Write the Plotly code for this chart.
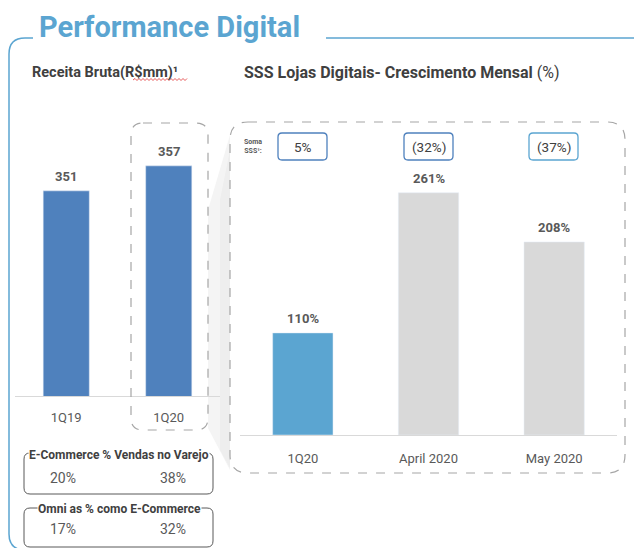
import plotly.graph_objects as go

W, H = 634, 548

# ---- data ----
left_cats = ["1Q19", "1Q20"]
left_vals = [351, 357]
right_cats = ["1Q20", "April 2020", "May 2020"]
right_vals = [110, 261, 208]
soma_sss = ["5%", "(32%)", "(37%)"]
ecom_vendas = ["20%", "38%"]
omni_ecom = ["17%", "32%"]

FONT = "Roboto, Noto Sans, sans-serif"
BLUE_DARK = "#4F81BD"
BLUE_LIGHT = "#5BA5D1"
GREY_BAR = "#D9D9D9"
TXT = "#404040"
TXT2 = "#595959"


def X(px):
    return px / W


def Y(py):
    return 1 - py / H


def rrect(x0, y0, x1, y1, r):
    pts = [
        f"M {X(x0 + r)},{Y(y0)}", f"L {X(x1 - r)},{Y(y0)}",
        f"Q {X(x1)},{Y(y0)} {X(x1)},{Y(y0 + r)}", f"L {X(x1)},{Y(y1 - r)}",
        f"Q {X(x1)},{Y(y1)} {X(x1 - r)},{Y(y1)}", f"L {X(x0 + r)},{Y(y1)}",
        f"Q {X(x0)},{Y(y1)} {X(x0)},{Y(y1 - r)}", f"L {X(x0)},{Y(y0 + r)}",
        f"Q {X(x0)},{Y(y0)} {X(x0 + r)},{Y(y0)} Z",
    ]
    return " ".join(pts)


def note(px, py, text, size, color=TXT2, xanchor="center", **kw):
    return dict(x=X(px), y=Y(py), xref="paper", yref="paper", text=text,
                showarrow=False, xanchor=xanchor, yanchor="middle",
                font=dict(size=size, color=color, family=FONT), **kw)


fig = go.Figure()

fig.add_trace(go.Bar(x=left_cats, y=left_vals, marker_color=BLUE_DARK,
                     width=0.45, xaxis="x", yaxis="y", showlegend=False,
                     hoverinfo="skip"))
fig.add_trace(go.Bar(x=right_cats, y=right_vals,
                     marker_color=[BLUE_LIGHT, GREY_BAR, GREY_BAR],
                     width=0.48, xaxis="x2", yaxis="y2", showlegend=False,
                     hoverinfo="skip"))

annotations = []
for c, v in zip(left_cats, left_vals):
    annotations.append(dict(x=c, y=v, xref="x", yref="y", text=f"<b>{v}</b>",
                            showarrow=False, yanchor="bottom", yshift=5,
                            font=dict(size=13, color=TXT2, family=FONT)))
for c, v in zip(right_cats, right_vals):
    annotations.append(dict(x=c, y=v, xref="x2", yref="y2", text=f"<b>{v}%</b>",
                            showarrow=False, yanchor="bottom", yshift=5,
                            font=dict(size=13, color=TXT2, family=FONT)))

# titles
annotations.append(note(37, 27, "<b>Performance Digital</b>", 29,
                        color=BLUE_LIGHT, xanchor="left"))
annotations.append(note(30, 72, "<b>Receita Bruta(R$mm)¹</b>", 14.5,
                        color=TXT, xanchor="left"))
annotations.append(note(242, 72,
                        "<b>SSS Lojas Digitais- Crescimento Mensal</b> (%)",
                        16, color=TXT, xanchor="left"))
annotations.append(note(253, 147, "<b>Soma<br>SSS¹:</b>", 7))

shapes = []
# Soma SSS boxes
box_x = [(278, 327), (404, 453), (529, 578)]
box_col = [BLUE_DARK, BLUE_DARK, BLUE_LIGHT]
for (bx0, bx1), txt, col in zip(box_x, soma_sss, box_col):
    shapes.append(dict(type="path", path=rrect(bx0, 133, bx1, 160, 4),
                       xref="paper", yref="paper",
                       line=dict(color=col, width=1.3)))
    annotations.append(note((bx0 + bx1) / 2, 146.5, txt, 13.5, color=TXT))

# wedge shading between the boxes
shapes.append(dict(type="path",
                   path=f"M {X(208)},{Y(210)} L {X(230)},{Y(135)} L {X(230)},{Y(470)} L {X(208)},{Y(428)} Z",
                   xref="paper", yref="paper", fillcolor="#F4F4F4",
                   line=dict(width=0), layer="below"))
shapes.append(dict(type="path",
                   path=f"M {X(220)},{Y(200)} L {X(230)},{Y(150)} L {X(230)},{Y(468)} L {X(220)},{Y(450)} Z",
                   xref="paper", yref="paper", fillcolor="#EEEEEE",
                   line=dict(width=0), layer="below"))

# dashed rounded boxes
shapes.append(dict(type="path", path=rrect(131, 123, 208, 430, 12),
                   xref="paper", yref="paper",
                   line=dict(color="#A6A6A6", width=1.2, dash="dash")))
shapes.append(dict(type="path", path=rrect(230, 122, 625, 473, 18),
                   xref="paper", yref="paper",
                   line=dict(color="#A6A6A6", width=1.2, dash="dash")))

# outer blue frame
shapes.append(dict(type="path",
                   path=(f"M {X(33)},{Y(38)} L {X(25)},{Y(38)} "
                         f"Q {X(9)},{Y(38)} {X(9)},{Y(54)} L {X(9)},{Y(534)} "
                         f"Q {X(9)},{Y(548)} {X(22)},{Y(550)}"),
                   xref="paper", yref="paper",
                   line=dict(color=BLUE_LIGHT, width=1.5)))
shapes.append(dict(type="line", x0=X(326), x1=X(634), y0=Y(38), y1=Y(38),
                   xref="paper", yref="paper",
                   line=dict(color=BLUE_LIGHT, width=1.5)))

# red spell-check squiggle under R$mm
zz = f"M {X(133)},{Y(80)}"
px_ = 133
up = True
while px_ < 187:
    px_ += 2
    zz += f" L {X(px_)},{Y(78.5 if up else 80.5)}"
    up = not up
shapes.append(dict(type="path", path=zz, xref="paper", yref="paper",
                   line=dict(color="#E03030", width=0.8)))

# bottom info boxes
info = [("E-Commerce % Vendas no Varejo", ecom_vendas, 453, 494, 455, 478),
        ("Omni as % como E-Commerce", omni_ecom, 508, 547, 509, 529)]
for title, vals, y0b, y1b, ty, vy in info:
    shapes.append(dict(type="path", path=rrect(24, y0b, 213, y1b, 6),
                       xref="paper", yref="paper",
                       line=dict(color="#595959", width=1)))
    annotations.append(note(119, ty, f"<b>{title}</b>", 12, color=TXT,
                            bgcolor="white", borderpad=0))
    for cx, v in zip([63, 173], vals):
        annotations.append(note(cx, vy, v, 14))

fig.update_layout(
    width=W, height=H, margin=dict(l=0, r=0, t=0, b=0),
    paper_bgcolor="white", plot_bgcolor="rgba(0,0,0,0)",
    font=dict(family=FONT, color=TXT2),
    shapes=shapes, annotations=annotations,
    xaxis=dict(domain=[X(15), X(220)], range=[-0.5, 1.5], showgrid=False,
               showline=True, linecolor="#D9D9D9", linewidth=1.2, ticks="",
               tickfont=dict(size=13, color=TXT2), zeroline=False,
               anchor="y", fixedrange=True, ticklabelstandoff=9),
    yaxis=dict(domain=[Y(396), Y(130)], range=[301.8, 365.6], visible=False,
               anchor="x", fixedrange=True),
    xaxis2=dict(domain=[X(240), X(617)], range=[-0.5, 2.5], showgrid=False,
                showline=True, linecolor="#D9D9D9", linewidth=1.2, ticks="",
                tickfont=dict(size=13, color=TXT2), zeroline=False,
                anchor="y2", fixedrange=True, ticklabelstandoff=11),
    yaxis2=dict(domain=[Y(435), Y(150)], range=[0, 307.1], visible=False,
                anchor="x2", fixedrange=True),
)

fig.write_html("out.html", config={"displayModeBar": False},
               post_script="document.body.style.margin='0';document.body.style.overflow='hidden';")
